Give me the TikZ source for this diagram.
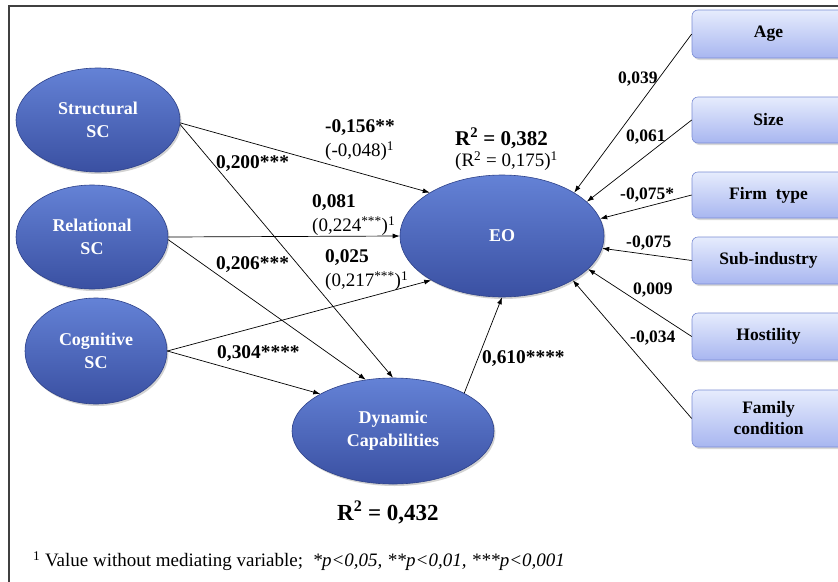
\documentclass[tikz,border=0pt]{standalone}
\usepackage{fontspec}
\setmainfont{Liberation Serif}
\usetikzlibrary{shapes.geometric,shadows,arrows.meta}
\definecolor{elltop}{HTML}{6482D6}
\definecolor{ellmid}{HTML}{4964BE}
\definecolor{ellbot}{HTML}{3A50A2}
\definecolor{ellborder}{HTML}{2E428A}
\definecolor{boxtop}{HTML}{E6ECFD}
\definecolor{boxbot}{HTML}{A8B6F0}
\definecolor{boxborder}{HTML}{7A8CD4}
\begin{document}
\begin{tikzpicture}[x=1pt,y=-1pt,
  latent/.style={ellipse, draw=ellborder, line width=0.6pt, top color=elltop, middle color=ellmid, bottom color=ellbot,
    text=white, font=\bfseries\fontsize{18}{23}\selectfont, align=center, inner sep=0pt,
    drop shadow={opacity=0.35, shadow xshift=1.5pt, shadow yshift=-2pt}},
  ctrl/.style={rectangle, rounded corners=6pt, draw=boxborder, line width=0.6pt, top color=boxtop,
    bottom color=boxbot, font=\bfseries\fontsize{17.5}{21}\selectfont, align=center,
    minimum width=153pt, inner sep=0pt,
    drop shadow={opacity=0.3, shadow xshift=1.5pt, shadow yshift=-2pt}},
  arr/.style={-{Latex[length=7pt,width=5pt]}, line width=0.7pt, black},
  coef/.style={font=\bfseries\fontsize{19.4}{22}\selectfont, anchor=west, inner sep=0pt},
  coefr/.style={font=\fontsize{19}{22}\selectfont, anchor=west, inner sep=0pt},
  ccoef/.style={font=\bfseries\fontsize{17.5}{20}\selectfont, anchor=west, inner sep=0pt},
  rsq/.style={font=\bfseries\fontsize{21}{24}\selectfont, anchor=west, inner sep=0pt},
  note/.style={font=\fontsize{19}{22}\selectfont, anchor=west, inner sep=0pt}
]
\clip (0,0) rectangle (838,581);
\fill[white] (0,0) rectangle (838,581);
\draw[line width=1.2pt, black!75] (9,6) rectangle (860,600);

% latent variables
\node[latent, minimum width=164pt, minimum height=104pt] (struct) at (98,120) {Structural\\SC};
\node[latent, minimum width=152pt, minimum height=104pt] (relat) at (92,237) {Relational\\SC};
\node[latent, minimum width=142pt, minimum height=106pt] (cogn) at (96,351) {Cognitive\\SC};
\node[latent, minimum width=202pt, minimum height=106pt] (dc) at (393,431) {Dynamic\\Capabilities};
\node[latent, minimum width=204pt, minimum height=122pt] (eo) at (502,236) {EO};

% control variables
\node[ctrl, minimum height=48pt] (age) at (768.5,34) {Age};
\node[ctrl, minimum height=46pt] (size) at (768.5,120) {Size};
\node[ctrl, minimum height=46pt] (firm) at (768.5,195) {Firm\ \ type};
\node[ctrl, minimum height=47pt] (sub) at (768.5,260.5) {Sub-industry};
\node[ctrl, minimum height=47pt] (host) at (768.5,336.5) {Hostility};
\node[ctrl, minimum height=57pt] (fam) at (768.5,418.5) {Family\\condition};

% structural paths
\draw[arr] (struct.-2) -- (eo.149);
\draw[arr] (struct.-3) -- (dc.90);
\draw[arr] (relat.east) -- (eo.180);
\draw[arr] (relat.-2) -- (dc.118);
\draw[arr] (cogn.east) -- (eo.212);
\draw[arr] (cogn.east) -- (dc.153);
\draw[arr] (dc.28) -- (eo.270);

% control paths
\draw[arr] (age.west) -- (eo.31);
\draw[arr] (size.west) -- (eo.22);
\draw[arr] (firm.west) -- (eo.10);
\draw[arr] (sub.west) -- (eo.353);
\draw[arr] (host.west) -- (eo.339);
\draw[arr] (fam.west) -- (eo.328);

% coefficients
\node[coef] (c1) at (325,128) {-0,156**};
\node[coefr] (c1b) at (325,151) {(-0,048)\textsuperscript{1}};
\node[coef] (c2) at (216,164) {0,200***};
\node[coef] (c3) at (312,203) {0,081};
\node[coefr] (c3b) at (312,226) {(0,224\textsuperscript{***})\textsuperscript{1}};
\node[coef] (c4) at (216,265) {0,206***};
\node[coef] (c5) at (325,258) {0,025};
\node[coefr] (c5b) at (325,281) {(0,217\textsuperscript{***})\textsuperscript{1}};
\node[coef] (c6) at (217,354) {0,304****};
\node[coef] (c7) at (482,359) {0,610****};

\node[rsq] (r1) at (455,138) {R\textsuperscript{2} = 0,382};
\node[coefr] (r1b) at (455,161) {(R\textsuperscript{2} = 0,175)\textsuperscript{1}};
\node[rsq, font=\bfseries\fontsize{23}{26}\selectfont] (r2) at (337,512) {R\textsuperscript{2} = 0,432};

\node[ccoef] (k1) at (618,79) {0,039};
\node[ccoef] (k2) at (626,137) {0,061};
\node[ccoef] (k3) at (620,195) {-0,075*};
\node[ccoef] (k4) at (626,243) {-0,075};
\node[ccoef] (k5) at (633,290) {0,009};
\node[ccoef] (k6) at (630,338) {-0,034};

\node[note] (fn) at (33,561) {\textsuperscript{1} Value without mediating\ variable;\ \ \textit{*p<0,05, **p<0,01, ***p<0,001}};
\end{tikzpicture}
\end{document}
